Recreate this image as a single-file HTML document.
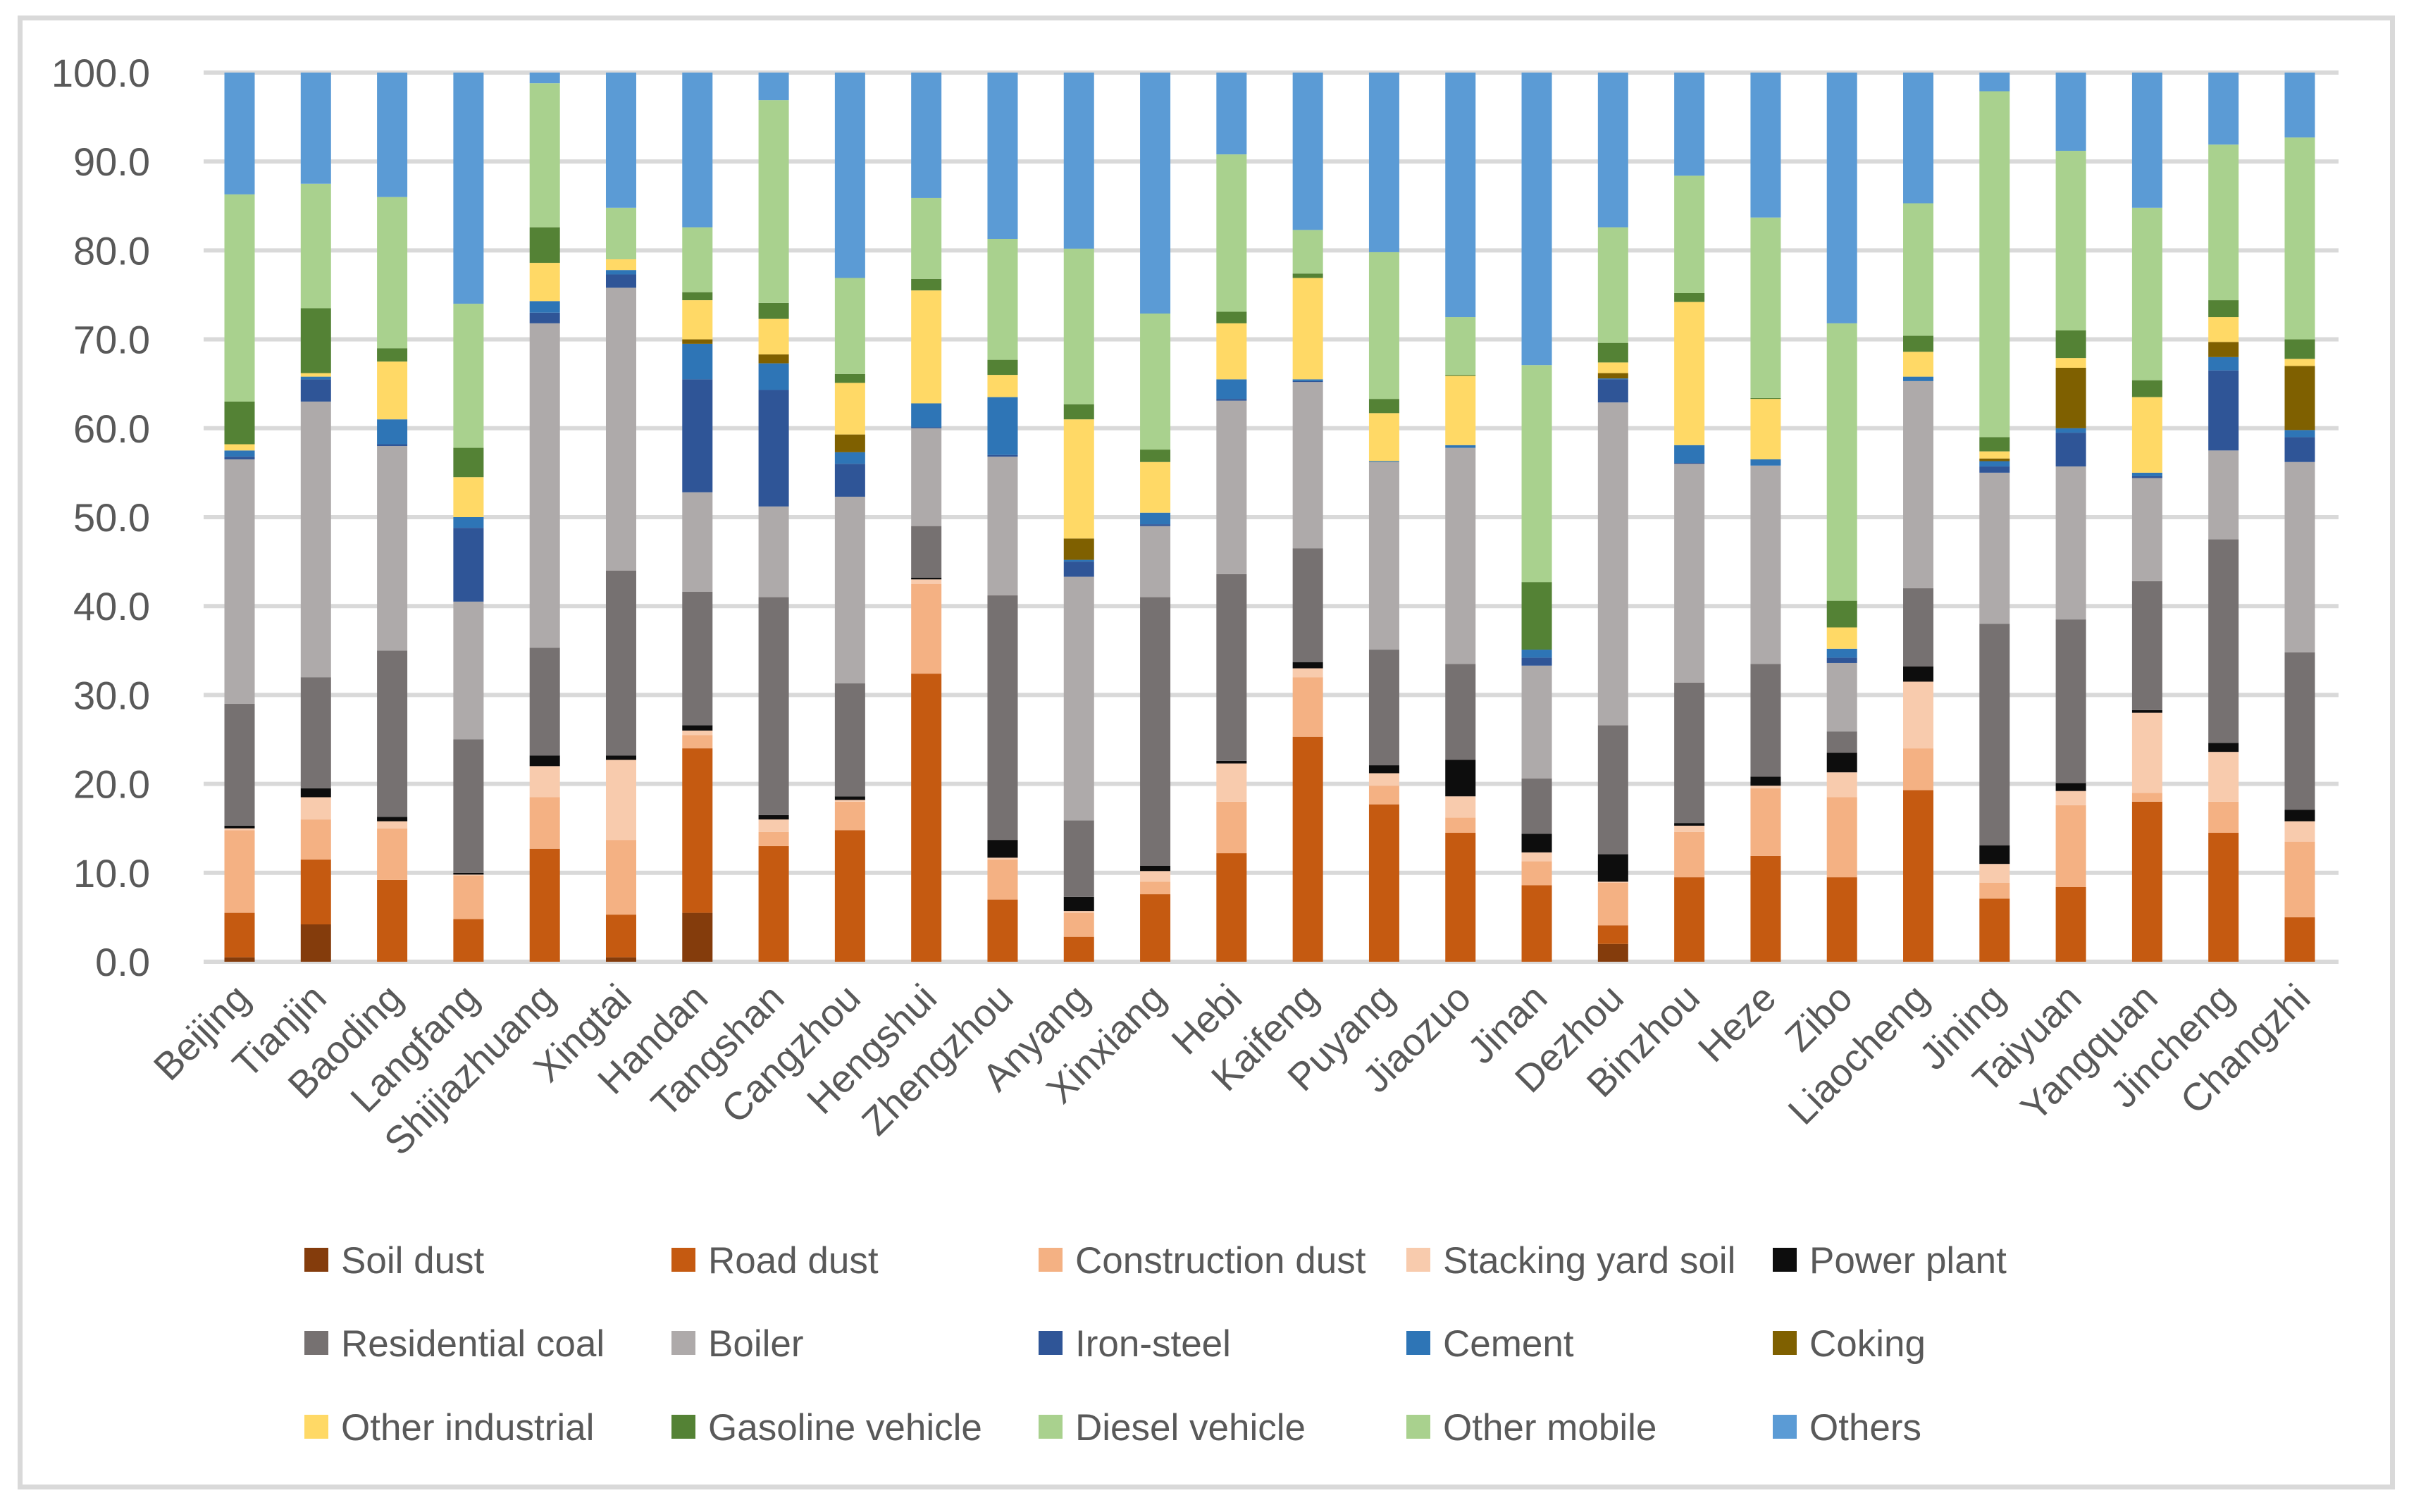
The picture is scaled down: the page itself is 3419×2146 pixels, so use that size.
<!DOCTYPE html>
<html><head><meta charset="utf-8">
<style>
html,body{margin:0;padding:0;background:#fff;}
svg{display:block;font-family:"Liberation Sans",sans-serif;}
</style></head>
<body>
<svg id="chart" width="3419" height="2146" viewBox="0 0 3419 2146" xmlns="http://www.w3.org/2000/svg">
<rect x="28.5" y="25.5" width="3367" height="2085" fill="#fff" stroke="#d9d9d9" stroke-width="7"/>
<g id="grid"></g>
<g id="yticks"></g>
<g id="bars"></g>
<g id="xlabels"></g>
<g id="legend"></g>
</svg>
<script>
const cities = ["Beijing","Tianjin","Baoding","Langfang","Shijiazhuang","Xingtai","Handan","Tangshan","Cangzhou","Hengshui","Zhengzhou","Anyang","Xinxiang","Hebi","Kaifeng","Puyang","Jiaozuo","Jinan","Dezhou","Binzhou","Heze","Zibo","Liaocheng","Jining","Taiyuan","Yangquan","Jincheng","Changzhi"];
const yTicks = [0,10,20,30,40,50,60,70,80,90,100];
const seriesNames = ["Soil dust","Road dust","Construction dust","Stacking yard soil","Power plant","Residential coal","Boiler","Iron-steel","Cement","Coking","Other industrial","Gasoline vehicle","Diesel vehicle","Other mobile","Others"];
const soilDust = [0.5,4.2,0,0,0,0.5,5.5,0,0,0,0,0,0,0,0,0,0,0,2,0,0,0,0,0,0,0,0,0];
const roadDust = [5.0,7.3,9.2,4.8,12.7,4.8,18.5,13,14.8,32.4,7,2.8,7.6,12.2,25.3,17.7,14.5,8.6,2.1,9.5,11.9,9.5,19.3,7.1,8.4,18,14.5,5];
const constructionDust = [9.3,4.5,5.8,4.9,5.8,8.4,1.5,1.6,3.2,10.1,4.5,2.7,1.4,5.8,6.7,2.1,1.7,2.7,4.8,5.1,7.6,9,4.7,1.8,9.2,1,3.5,8.5];
const stackingYardSoil = [0.2,2.5,0.8,0.1,3.5,9.0,0.5,1.4,0.2,0.5,0.2,0.2,1.2,4.3,1.0,1.4,2.4,1.0,0.1,0.7,0.3,2.8,7.5,2.1,1.6,9,5.6,2.3];
const powerPlant = [0.3,1.0,0.5,0.2,1.2,0.5,0.6,0.5,0.4,0.2,2.0,1.6,0.6,0.3,0.7,0.9,4.1,2.1,3.1,0.3,1.0,2.2,1.7,2.1,0.9,0.3,1.0,1.3];
const residentialCoal = [13.7,12.5,18.7,15,12.1,20.8,15,24.5,12.7,5.8,27.5,8.6,30.2,21,12.8,13,10.8,6.2,14.5,15.8,12.7,2.4,8.8,24.9,18.4,14.5,22.9,17.7];
const boiler = [27.5,31,23,15.5,36.5,31.8,11.2,10.2,21,11,15.6,27.4,8,19.5,18.7,21.1,24.3,12.7,36.3,24.6,22.3,7.7,23.3,17,17.2,11.6,10,21.4];
const ironSteel = [0.3,2.5,0.2,8.3,1.2,1.5,12.7,13.1,3.7,0.1,0.2,1.7,0.2,0.2,0.1,0,0,0.9,2.6,0.1,0,0.6,0,0.7,3.8,0.2,9,2.8];
const cement = [0.7,0.3,2.8,1.2,1.3,0.5,4.0,3.0,1.3,2.7,6.5,0.2,1.3,2.2,0.2,0.1,0.3,0.9,0.1,2.0,0.7,1.0,0.5,0.6,0.5,0.4,1.5,0.8];
const coking = [0,0,0,0,0,0,0.5,1.0,2.0,0,0,2.4,0,0,0,0,0,0,0.6,0,0,0,0,0.3,6.8,0,1.7,7.2];
const otherIndustrial = [0.7,0.4,6.5,4.5,4.3,1.2,4.4,4.0,5.8,12.7,2.5,13.4,5.7,6.3,11.4,5.4,7.8,0,1.2,16.1,6.8,2.4,2.8,0.8,1.1,8.5,2.8,0.8];
const gasolineVehicle = [4.8,7.3,1.5,3.3,4.0,0,0.9,1.8,1.0,1.3,1.7,1.7,1.4,1.3,0.5,1.6,0.1,7.6,2.2,1.0,0.1,3.0,1.8,1.6,3.1,1.9,1.9,2.2];
const dieselVehicle = [23.3,14,17,16.2,16.2,5.8,7.3,22.8,10.8,9.1,13.6,17.5,15.3,17.7,4.9,16.5,6.5,24.4,13,13.2,20.3,31.2,14.9,38.9,20.2,19.4,17.5,22.7];
const otherMobile = [0,0,0,0,0,0,0,0,0,0,0,0,0,0,0,0,0,0,0,0,0,0,0,0,0,0,0,0];
const others = [13.7,12.5,14,26,1.2,15.2,17.4,3.1,23.1,14.1,18.7,19.8,27.1,9.2,17.7,20.2,27.5,32.9,17.4,11.6,16.3,28.2,14.7,2.1,8.8,15.2,8.1,7.3];

const seriesData = [soilDust,roadDust,constructionDust,stackingYardSoil,powerPlant,residentialCoal,boiler,ironSteel,cement,coking,otherIndustrial,gasolineVehicle,dieselVehicle,otherMobile,others];
const colors = ["#843c0c","#c55a11","#f4b183","#f8cbad","#0d0d0d","#767171","#aeaaaa","#2f5597","#2e75b6","#7f6000","#ffd966","#548235","#a9d18e","#a9d18e","#5b9bd5"];

const NS = "http://www.w3.org/2000/svg";
const plotL = 289, plotR = 3319, yTop = 103, yBot = 1365;
const firstC = 340, lastC = 3264, barW = 43;
function yScale(v){ return yBot - (v/100)*(yBot-yTop); }
function xScale(i){ return firstC + i*(lastC-firstC)/(cities.length-1); }
function mk(tag, attrs, parent){
  const e = document.createElementNS(NS, tag);
  for (const k in attrs) e.setAttribute(k, attrs[k]);
  parent.appendChild(e); return e;
}
const grid = document.getElementById('grid');
const yt = document.getElementById('yticks');
yTicks.forEach(t=>{
  const l = mk('line',{x1:plotL,x2:plotR,y1:yScale(t),y2:yScale(t),stroke:'#d9d9d9','stroke-width':6},grid);
  
  
  const tx = mk('text',{x:213,y:yScale(t)+20,'text-anchor':'end','font-size':56,fill:'#595959'},yt);
  tx.textContent = t.toFixed(1);
  
  
});
const bars = document.getElementById('bars');
cities.forEach((c,i)=>{
  let cum = 0;
  const cx = xScale(i);
  seriesData.forEach((arr,s)=>{
    const v = arr[i];
    if (v<=0){ return; }
    const y1 = yScale(cum+v), y0 = yScale(cum);
    const r = mk('rect',{x:cx-barW/2,y:y1,width:barW,height:Math.max(0,y0-y1),fill:colors[s]},bars);
    
    
    cum += v;
  });
  const lx = cx+18, ly = 1420;
  const t = mk('text',{x:lx,y:ly,'text-anchor':'end','font-size':55,fill:'#595959',transform:`rotate(-45 ${lx} ${ly})`},document.getElementById('xlabels'));
  t.textContent = c;
  
  
});
const lg = document.getElementById('legend');
const colX = [432,953,1474,1996,2516];
const rowY = [1788,1906,2025];
seriesNames.forEach((n,i)=>{
  const r = Math.floor(i/5), c = i%5;
  const g = mk('g',{},lg);
  
  
  const sq = mk('rect',{x:colX[c],y:rowY[r]-17,width:34,height:34,fill:colors[i]},g);
  
  
  const t = mk('text',{x:colX[c]+52,y:rowY[r]+19,'font-size':53,fill:'#595959'},g);
  t.textContent = n;
  
  
});
</script>
</body></html>
